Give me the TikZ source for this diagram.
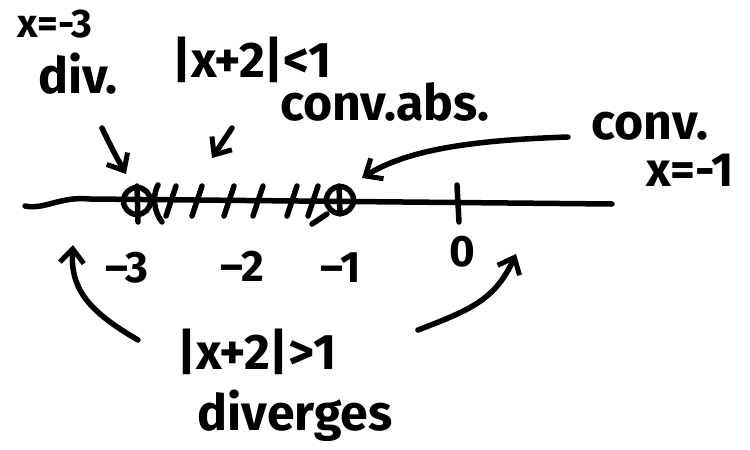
\documentclass[tikz,border=0pt]{standalone}
\usepackage{fontspec}
\setmainfont{Fira Sans}
\usetikzlibrary{arrows.meta}
\begin{document}
\begin{tikzpicture}[x=1pt,y=-1pt,
  ink/.style={line width=5.5pt,line cap=round,line join=round},
  hand/.style={font=\fontsize{50}{52}\selectfont\bfseries,inner sep=0pt},
  tip/.style={-{Straight Barb[length=14pt,width=24pt,line width=5pt]}}]
\useasboundingbox (0,0) rectangle (750,450);
% number line
\coordinate (L) at (25,206);
\coordinate (R) at (612,204);
\draw[ink] (L) .. controls (45,210) and (60,196) .. (90,199) -- (R);
% circles at -3 and -1
\node[ink,draw,circle,minimum size=27pt,inner sep=0pt] (cm3) at (137,201) {};
\node[ink,draw,circle,minimum size=27pt,inner sep=0pt] (cm1) at (340,200) {};
\draw[ink] (137,186) -- (138,222);
\draw[ink] (339,186) -- (340,214);
% tick at 0
\coordinate (t0a) at (457,185);
\coordinate (t0b) at (459,222);
\draw[ink] (t0a) -- (t0b);
% hatching
\draw[ink] (158,185) .. controls (152,196) and (154,212) .. (162,222);
\foreach \x in {171,197,229,258,292,313}
  \draw[ink] (\x-5,216) -- (\x+5,186);
\draw[ink] (312,224) -- (327,214);
% tick labels
\node[hand,font=\fontsize{44}{46}\selectfont\bfseries] (lm3) at (127,268) {–3};
\node[hand,font=\fontsize{44}{46}\selectfont\bfseries] (lm2) at (242,266) {–2};
\node[hand,font=\fontsize{44}{46}\selectfont\bfseries] (lm1) at (341,268) {–1};
\node[hand,font=\fontsize{44}{46}\selectfont\bfseries] (l0) at (462,252) {0};
% top labels
\node[hand,font=\fontsize{40}{42}\selectfont\bfseries] (xm3) at (55,24) {x=-3};
\node[hand] (div) at (78,74) {div.};
\node[hand] (abslt) at (252,60) {|x+2|<1};
\node[hand] (cabs) at (385,102) {conv.abs.};
\node[hand] (conv) at (650,126) {conv.};
\node[hand,font=\fontsize{48}{50}\selectfont\bfseries] (xm1) at (690,170) {x=-1};
% bottom labels
\node[hand] (absgt) at (257,352) {|x+2|>1};
\node[hand] (dvg) at (295,416) {diverges};
% arrows
\coordinate (d0) at (102,128);
\draw[ink,tip] (d0) .. controls (110,145) and (118,160) .. (126,174);
\coordinate (a0) at (232,128);
\draw[ink,tip] (a0) -- (212,158);
\coordinate (c0) at (568,137);
\draw[ink,tip] (c0) .. controls (480,140) and (410,148) .. (362,178);
\coordinate (lb) at (138,340);
\draw[ink,tip] (lb) .. controls (90,312) and (70,290) .. (73,245);
\coordinate (rb) at (418,330);
\draw[ink,tip] (rb) .. controls (470,310) and (495,300) .. (516,254);
\end{tikzpicture}
\end{document}
